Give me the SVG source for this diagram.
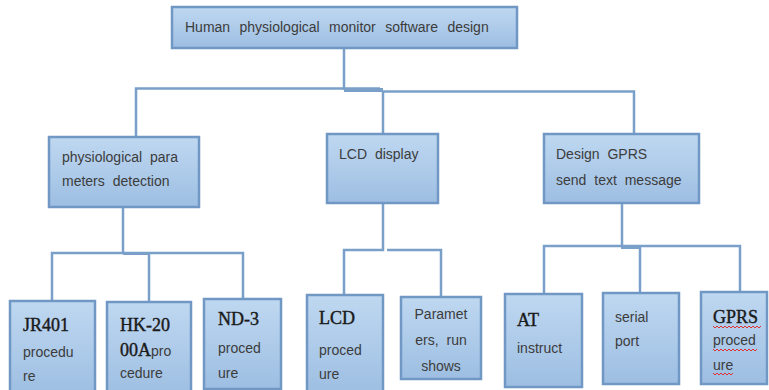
<svg xmlns="http://www.w3.org/2000/svg" width="769" height="390" viewBox="0 0 769 390">
<defs>
<linearGradient id="g" x1="0" y1="0" x2="0" y2="1">
<stop offset="0" stop-color="#bfd8f1"/>
<stop offset="1" stop-color="#9dbee2"/>
</linearGradient>
<style>
.box{fill:url(#g);stroke:#7198c4;stroke-width:2.5}
.ln{fill:none;stroke:#7aa0c9;stroke-width:2.5}
.jn{fill:#7aa0c9}
.s{font-family:"Liberation Sans",Arial,sans-serif;font-size:14px;fill:#3c3c3c;word-spacing:4px}
.r{font-family:"Liberation Serif","Times New Roman",serif;font-size:18px;fill:#1a1a1a;stroke:#1a1a1a;stroke-width:0.4}
.sq{fill:none;stroke:#e03030;stroke-width:1}
</style>
</defs>
<rect width="769" height="390" fill="#ffffff"/>
<g id="connectors">
<path class="ln" d="M344,48 V90"/>
<path class="ln" d="M136,137 V88.5 H380"/>
<path class="ln" d="M383,134 V91.5 H634 V134"/>
<rect class="jn" x="344" y="88" width="39" height="4"/>
<path class="ln" d="M123,207 V253"/>
<path class="ln" d="M52,301 V253 H243 V299"/>
<path class="ln" d="M149,302 V253"/>
<rect class="jn" x="123" y="252" width="26" height="3"/>
<path class="ln" d="M383,203 V250 H344 V295"/>
<path class="ln" d="M387,250 H441 V297"/>
<path class="ln" d="M622,203 V246"/>
<path class="ln" d="M544,294 V246 H740 V292"/>
<path class="ln" d="M640,293 V246"/>
<rect class="jn" x="621" y="245" width="19" height="4"/>
</g>
<g id="n0">
<rect class="box" x="172" y="7" width="345" height="41"/>
<text class="s" x="185" y="32" style="word-spacing:5.5px">Human physiological monitor software design</text>
</g>
<g id="n1">
<rect class="box" x="49" y="137" width="150" height="70"/>
<text class="s" x="62" y="162">physiological para</text>
<text class="s" x="62" y="186">meters detection</text>
</g>
<g id="n2">
<rect class="box" x="327" y="134" width="111" height="69"/>
<text class="s" x="339" y="159">LCD display</text>
</g>
<g id="n3">
<rect class="box" x="544" y="134" width="155" height="69"/>
<text class="s" x="556" y="159">Design GPRS</text>
<text class="s" x="556" y="185">send text message</text>
</g>
<g id="n4">
<rect class="box" x="10" y="301" width="85" height="95"/>
<text class="r" x="23" y="331">JR401</text>
<text class="s" x="23" y="357">procedu</text>
<text class="s" x="23" y="381">re</text>
</g>
<g id="n5">
<rect class="box" x="107" y="302" width="84" height="95"/>
<text class="r" x="120" y="331">HK-20</text>
<text x="120" y="356"><tspan class="r">00A</tspan><tspan class="s">pro</tspan></text>
<text class="s" x="120" y="378">cedure</text>
</g>
<g id="n6">
<rect class="box" x="204" y="299" width="77" height="90"/>
<text class="r" x="218" y="325">ND-3</text>
<text class="s" x="218" y="353">proced</text>
<text class="s" x="218" y="378">ure</text>
</g>
<g id="n7">
<rect class="box" x="307" y="295" width="76" height="100"/>
<text class="r" x="319" y="324">LCD</text>
<text class="s" x="319" y="355">proced</text>
<text class="s" x="319" y="379">ure</text>
</g>
<g id="n8">
<rect class="box" x="401" y="297" width="80" height="82"/>
<text class="s" x="441" y="319" text-anchor="middle">Paramet</text>
<text class="s" x="441" y="345" text-anchor="middle">ers, run</text>
<text class="s" x="441" y="371" text-anchor="middle">shows</text>
</g>
<g id="n9">
<rect class="box" x="505" y="294" width="77" height="93"/>
<text class="r" x="517" y="326">AT</text>
<text class="s" x="517" y="353">instruct</text>
</g>
<g id="n10">
<rect class="box" x="603" y="293" width="76" height="91"/>
<text class="s" x="615" y="322">serial</text>
<text class="s" x="615" y="346">port</text>
</g>
<g id="n11">
<rect class="box" x="701" y="292" width="66" height="92"/>
<text class="r" x="713" y="323">GPRS</text>
<text class="s" x="713" y="345">proced</text>
<text class="s" x="713" y="370">ure</text>
<path class="sq" d="M713,326 l2,2 l2,-2 l2,2 l2,-2 l2,2 l2,-2 l2,2 l2,-2 l2,2 l2,-2 l2,2 l2,-2 l2,2 l2,-2 l2,2 l2,-2 l2,2 l2,-2 l2,2 l2,-2 l2,2 l2,-2 l2,2 l2,-2"/>
<path class="sq" d="M713,349 l2,2 l2,-2 l2,2 l2,-2 l2,2 l2,-2 l2,2 l2,-2 l2,2 l2,-2 l2,2 l2,-2 l2,2 l2,-2 l2,2 l2,-2 l2,2 l2,-2 l2,2 l2,-2 l2,2 l2,-2"/>
<path class="sq" d="M713,373 l2,2 l2,-2 l2,2 l2,-2 l2,2 l2,-2 l2,2 l2,-2 l2,2 l2,-2"/>
</g>
</svg>
